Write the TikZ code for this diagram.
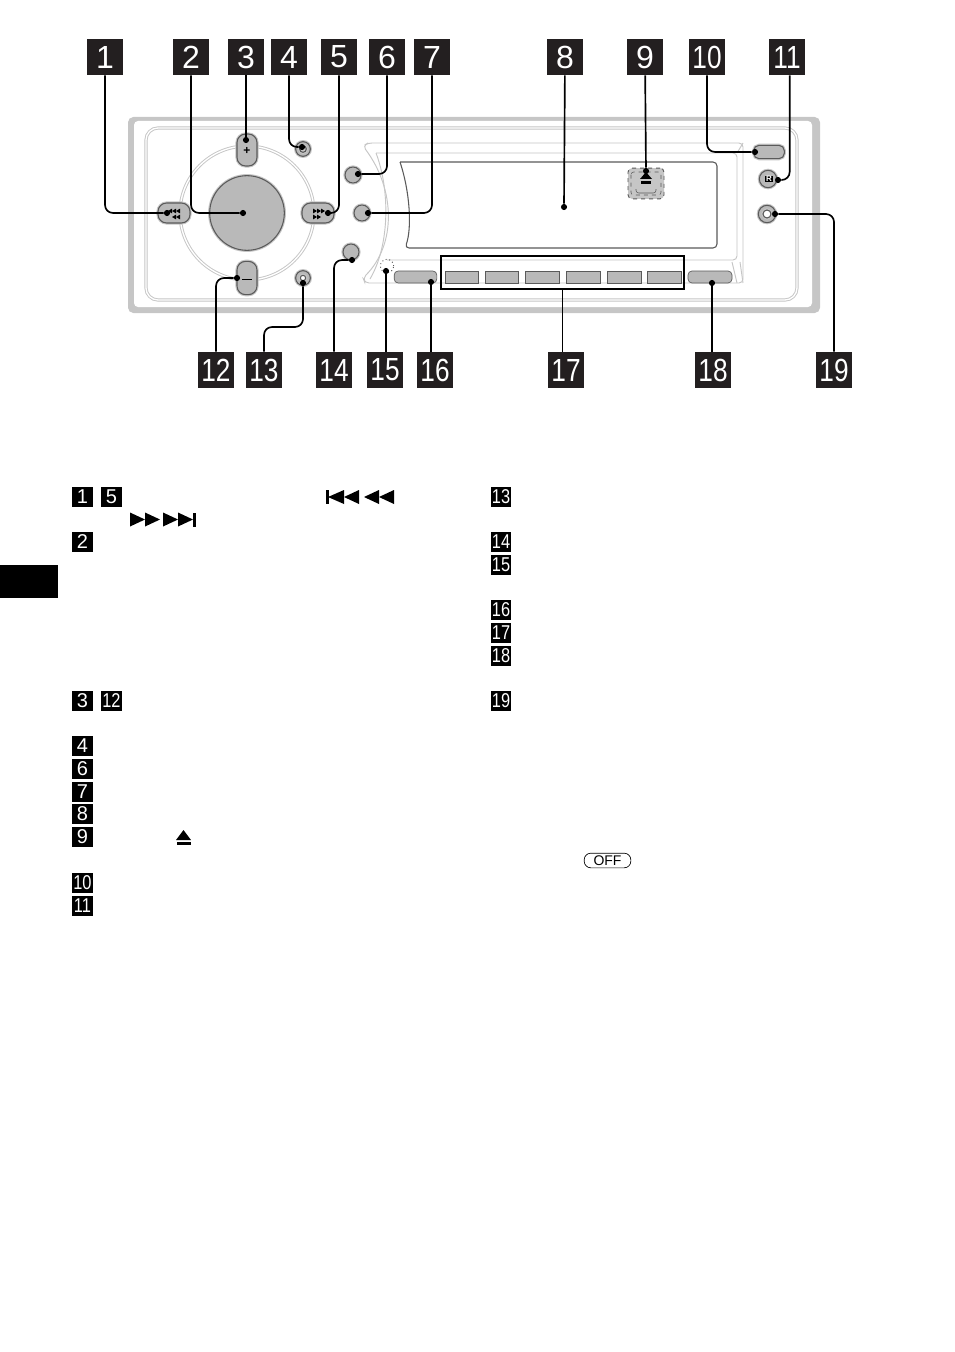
\documentclass[tikz,border=0pt]{standalone}
\usepackage{fontspec}
\setmainfont{Liberation Sans}
\definecolor{barecolor}{HTML}{231F20}
\definecolor{btncolor}{HTML}{B9B9B9}
\definecolor{trimcolor}{HTML}{C6C6C6}
\definecolor{edgecolor}{HTML}{5A5A5A}
\newcommand{\tight}[1]{\scalebox{.82}[1]{#1}}
\newcommand{\tril}[4]{\fill (#1,#2) -- ++(#3,-#4) -- ++(0,{2*#4}) -- cycle;}
\newcommand{\trir}[4]{\fill (#1,#2) -- ++(-#3,-#4) -- ++(0,{2*#4}) -- cycle;}
\tikzset{
    badge/.style={rectangle, fill=barecolor, text=white, inner sep=0pt, minimum size=27pt, font=\fontsize{24}{24}\selectfont},
    tag/.style={rectangle, fill=black, text=white, inner sep=0pt, minimum size=15.2pt, font=\fontsize{15}{15}\selectfont},
    dot/.style={circle, fill=black, inner sep=0pt, minimum size=4.6pt},
    lead/.style={line width=1.25pt, rounded corners=6pt},
    trim/.style={draw=trimcolor, line width=.7pt},
    knob/.style={circle, draw=edgecolor, fill=btncolor, line width=.8pt, inner sep=0pt, preaction={draw=trimcolor, line width=2.4pt}},
    pill/.style={rectangle, rounded corners=6.5pt, draw=edgecolor, fill=btncolor, line width=.8pt, inner sep=0pt, preaction={draw=trimcolor, line width=2.4pt}},
    preset/.style={rectangle, draw=edgecolor, fill=btncolor, line width=.5pt, inner sep=0pt, minimum height=9pt},
}
\begin{document}
\begin{tikzpicture}[x=.75pt, y=-.75pt]
    \useasboundingbox (0,0) rectangle (954,1352);

    \fill[trimcolor, rounded corners=4pt] (128,117) rectangle (820,313);
    \fill[white, rounded corners=3pt] (134,121) rectangle (812,307);
    \draw[trim, double=white, double distance=1pt, rounded corners=9pt] (146,128) rectangle (797,300);

    \draw[trim, rounded corners=3pt] (392,283) -- (365,283) -- (363,278) .. controls (396,245) and (396,190) .. (363,146) -- (368,143) -- (743,143) -- (743,283) -- (392,283);
    \draw[trim] (370,279) .. controls (390,245) and (390,190) .. (376,153);
    \draw[trim, rounded corners=3pt] (376,153) -- (737,153) -- (737,260) -- (387,260);
    \draw[trim] (732,262) -- (737,283);
    \draw[trim] (740,262) -- (743,283);
    \draw[trim] (737,153) -- (743,143);
    \draw[edgecolor, line width=.8pt, rounded corners=3pt] (400,162) -- (717,162) -- (717,248) -- (405,248) .. controls (412,228) and (410,192) .. (400,162);

    \draw[trim, double=white, double distance=1pt] (247,213) circle [radius=67];
    \node[knob, minimum size=56pt] (dial) at (247,213) {};
    \node[pill, minimum width=15pt, minimum height=24pt] (plus) at (247,150) {};
    \node[pill, minimum width=15pt, minimum height=25pt] (minus) at (247,278) {};
    \node[pill, minimum width=24pt, minimum height=15pt] (prev) at (174,213) {};
    \node[pill, minimum width=24pt, minimum height=15pt] (next) at (318,213) {};
    \node[knob, minimum size=11pt] (source) at (303,149) {};
    \node[knob, fill=trimcolor, minimum size=5pt] at (303,149) {};
    \node[knob, minimum size=11pt] (jackb) at (303,278) {};
    \node[knob, fill=white, minimum size=4pt] at (303,278) {};
    \node[knob, minimum size=12pt] (modebtn) at (353,175) {};
    \node[knob, minimum size=12pt] (listbtn) at (362,213) {};
    \node[knob, minimum size=12pt] (seekbtn) at (351,252) {};
    \node[circle, draw=edgecolor, dotted, line width=.7pt, inner sep=0pt, minimum size=10pt] (sensor) at (387,266) {};
    \node[pill, minimum width=23pt, minimum height=10pt, rounded corners=4pt] (offbtn) at (769,152) {};
    \node[knob, minimum size=13pt] (resetbtn) at (768,179) {};
    \node[knob, minimum size=13pt] (auxjack) at (767,214) {};
    \node[knob, fill=white, minimum size=6pt] at (767,214) {};
    \node[rectangle, fill=black, text=white, inner sep=.5pt, font=\fontsize{6}{6}\selectfont\bfseries] at (769,179) {R};

    \node[preset, minimum width=32pt, rounded corners=3pt] (dsplbtn) at (415.5,277) {};
    \node[preset, minimum width=24.5pt] (p1) at (461.5,277) {};
    \node[preset, minimum width=25pt] (p2) at (501.5,277) {};
    \node[preset, minimum width=25.5pt] (p3) at (542.5,277) {};
    \node[preset, minimum width=25.5pt] (p4) at (583,277) {};
    \node[preset, minimum width=25.5pt] (p5) at (624,277) {};
    \node[preset, minimum width=25.5pt] (p6) at (664,277) {};
    \node[preset, minimum width=33pt, rounded corners=3pt] (amsbtn) at (710,277) {};
    \node[rectangle, draw=black, line width=1.1pt, inner sep=0pt, minimum width=182pt, minimum height=24.5pt] (pbox) at (562.5,272.5) {};

    \node[rectangle, rounded corners=3pt, draw=edgecolor, fill=trimcolor, dashed, line width=.7pt, inner sep=0pt, minimum width=27pt, minimum height=23pt] (ejectbtn) at (646,183.5) {};
    \draw[edgecolor, dashed, line width=.4pt, rounded corners=2pt] (631,172) rectangle (661,195);
    \draw[edgecolor, line width=.4pt, rounded corners=2pt] (636,189) -- (636,193) -- (656,193) -- (656,189);
    \fill (646,172) -- (652,179) -- (640,179) -- cycle;
    \fill (641,181) rectangle (651,184);

    \node[font=\fontsize{9}{9}\selectfont\bfseries] at (247,150.5) {+};
    \draw[line width=.5pt] (242,279) -- (252,279);
    \tril{168}{211}{4}{2.4} \tril{172}{211}{4}{2.4} \tril{176}{211}{4}{2.4}
    \tril{172}{217}{4}{2.4} \tril{176}{217}{4}{2.4}
    \trir{317}{211}{4}{2.4} \trir{321}{211}{4}{2.4} \trir{325}{211}{4}{2.4}
    \trir{317}{217}{4}{2.4} \trir{321}{217}{4}{2.4}

    \node[badge] (n1) at (105,57) {1};
    \node[badge] (n2) at (191,57) {2};
    \node[badge] (n3) at (246,57) {3};
    \node[badge] (n4) at (289,57) {4};
    \node[badge] (n5) at (339,57) {5};
    \node[badge] (n6) at (387,57) {6};
    \node[badge] (n7) at (432,57) {7};
    \node[badge] (n8) at (565,57) {8};
    \node[badge] (n9) at (645,57) {9};
    \node[badge] (n10) at (707,57) {\tight{10}};
    \node[badge] (n11) at (787,57) {\tight{11}};
    \node[badge] (n12) at (216,370) {\tight{12}};
    \node[badge] (n13) at (264,370) {\tight{13}};
    \node[badge] (n14) at (334,370) {\tight{14}};
    \node[badge] (n15) at (385,370) {\tight{15}};
    \node[badge] (n16) at (435,370) {\tight{16}};
    \node[badge] (n17) at (566,370) {\tight{17}};
    \node[badge] (n18) at (713,370) {\tight{18}};
    \node[badge] (n19) at (834,370) {\tight{19}};

    \node[dot] (d1) at (167,213) {};
    \node[dot] (d2) at (243,213) {};
    \node[dot] (d3) at (246,140) {};
    \node[dot] (d4) at (302,147) {};
    \node[dot] (d5) at (328,213) {};
    \node[dot] (d6) at (358,174) {};
    \node[dot] (d7) at (368,213) {};
    \node[dot] (d8) at (564,207) {};
    \node[dot] (d9) at (646,171) {};
    \node[dot] (d10) at (755,152) {};
    \node[dot] (d11) at (778,180) {};
    \node[dot] (d12) at (237,278) {};
    \node[dot] (d13) at (303,283) {};
    \node[dot] (d14) at (352,260) {};
    \node[dot] (d15) at (386,271) {};
    \node[dot] (d16) at (431,282) {};
    \node[dot] (d18) at (712,283) {};
    \node[dot] (d19) at (775,214) {};
    \coordinate (k13) at (303,327);

    \draw[lead] (n1) |- (d1);
    \draw[lead] (n2) |- (d2);
    \draw[lead] (n3) to (d3);
    \draw[lead] (n4) |- (d4);
    \draw[lead] (n5) |- (d5);
    \draw[lead] (n6) |- (d6);
    \draw[lead] (n7) |- (d7);
    \draw[lead] (n8) to (d8);
    \draw[lead] (n9) to (d9);
    \draw[lead] (n10) |- (d10);
    \draw[lead] ([xshift=2pt]n11.south) |- (d11);
    \draw[lead] (n12) |- (d12);
    \draw[lead] (n13) |- (k13) -- (d13);
    \draw[lead] (n14) |- (d14);
    \draw[lead] (d15) to (d15 |- n15.north);
    \draw[lead] (d16) to (d16 |- n16.north);
    \draw[lead] (pbox.south) to (pbox.south |- n17.north);
    \draw[lead] (d18) to (d18 |- n18.north);
    \draw[lead] (n19) |- (d19);

    \node[tag] (l1) at (82.5,497) {1};
    \node[tag] (l5) at (111.5,497) {5};
    \node[tag] (l2) at (82.5,542) {2};
    \node[tag] (l3) at (82.5,701) {3};
    \node[tag] (l12) at (111.5,701) {\tight{12}};
    \node[tag] (l4) at (82.5,746) {4};
    \node[tag] (l6) at (82.5,769) {6};
    \node[tag] (l7) at (82.5,792) {7};
    \node[tag] (l8) at (82.5,814) {8};
    \node[tag] (l9) at (82.5,837) {9};
    \node[tag] (l10) at (82.5,883) {\tight{10}};
    \node[tag] (l11) at (82.5,906) {\tight{11}};
    \node[tag] (l13) at (501,497) {\tight{13}};
    \node[tag] (l14) at (501,542) {\tight{14}};
    \node[tag] (l15) at (501,565) {\tight{15}};
    \node[tag] (l16) at (501,610) {\tight{16}};
    \node[tag] (l17) at (501,633) {\tight{17}};
    \node[tag] (l18) at (501,656) {\tight{18}};
    \node[tag] (l19) at (501,701) {\tight{19}};

    \fill (326,490) rectangle (328.5,504);
    \tril{328}{497}{16}{7} \tril{344}{497}{15}{7}
    \tril{364}{497}{15}{7} \tril{379}{497}{15}{7}
    \trir{145}{519.5}{15}{7} \trir{160}{519.5}{15}{7}
    \trir{178}{519.5}{15}{7} \trir{193}{519.5}{15}{7}
    \fill (193,513) rectangle (196,526.5);
    \fill (183.5,830) -- (191,840) -- (176,840) -- cycle;
    \fill (176.5,842) rectangle (191,844.5);

    \node[rectangle, rounded corners=5pt, draw=black, line width=.5pt, inner sep=0pt, minimum width=35pt, minimum height=11pt, font=\fontsize{10.5}{10.5}\selectfont] (offkey) at (607.5,860.5) {OFF};
    \fill[black] (0,565) rectangle (58,598);
\end{tikzpicture}
\end{document}
